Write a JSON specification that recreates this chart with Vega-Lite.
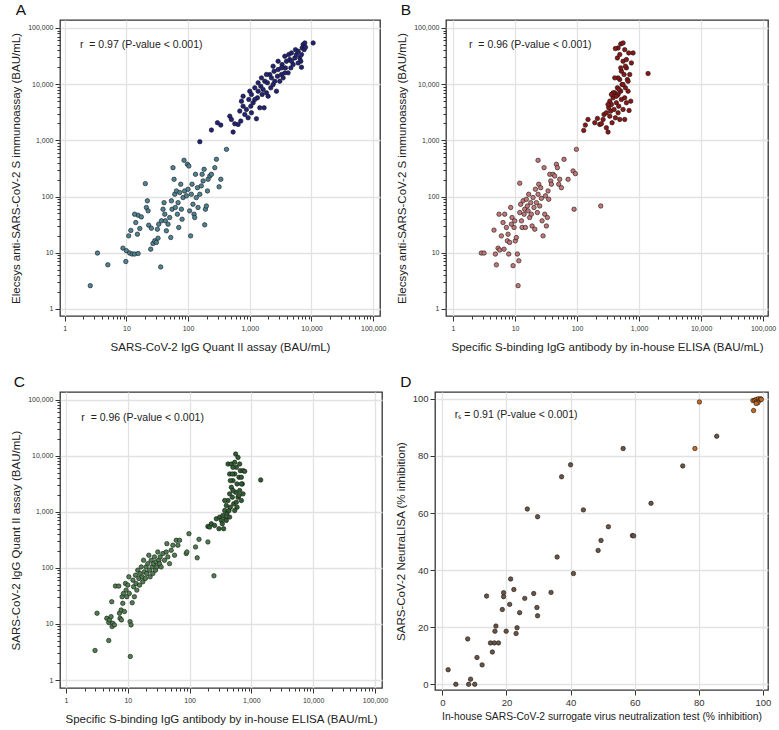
{
 "$schema": "https://vega.github.io/schema/vega-lite/v6.json",
 "background": "white",
 "padding": {"left": 10, "top": 1, "right": 2, "bottom": 2},
 "config": {
  "font": "Liberation Sans",
  "view": {"stroke": "#333333", "strokeWidth": 1.3},
  "axis": {"domain": false, "grid": true, "gridColor": "#e2e2e2", "gridWidth": 1.3, "tickColor": "#333333", "labelColor": "#333333", "labelFont": "Liberation Sans", "titleFont": "Liberation Sans", "titleFontWeight": "normal", "titleFontSize": 11.5, "titleColor": "#222222", "labelFlush": false, "labelOverlap": false},
  "title": {"fontWeight": "normal", "fontSize": 15.5, "anchor": "start", "color": "#111111", "offset": 2, "font": "Liberation Sans"}
 },
 "datasets": {
  "A": [
   {"x":2.6,"y":2.6,"g":"A1"},{"x":3.4,"y":9.9,"g":"A1"},{"x":5.0,"y":6.1,"g":"A1"},{"x":8.8,"y":12.1,"g":"A1"},{"x":9.8,"y":7.0,"g":"A1"},{"x":10,"y":10.9,"g":"A1"},{"x":10.9,"y":20,"g":"A1"},{"x":11.3,"y":9.9,"g":"A1"},{"x":12.4,"y":9.5,"g":"A1"},{"x":13.6,"y":9.5,"g":"A1"},{"x":15.5,"y":9.7,"g":"A1"},{"x":11.8,"y":25,"g":"A1"},{"x":14.2,"y":34.5,"g":"A1"},{"x":15.5,"y":46.6,"g":"A1"},{"x":13.6,"y":48.6,"g":"A1"},{"x":17.5,"y":43.5,"g":"A1"},{"x":16.5,"y":27,"g":"A1"},{"x":15.1,"y":21.4,"g":"A1"},{"x":20.3,"y":170,"g":"A1"},{"x":21.9,"y":84,"g":"A1"},{"x":21.1,"y":64,"g":"A1"},{"x":22.5,"y":55.7,"g":"A1"},{"x":23,"y":31,"g":"A1"},{"x":24.8,"y":11.6,"g":"A1"},{"x":25.4,"y":27.4,"g":"A1"},{"x":27,"y":14.6,"g":"A1"},{"x":28.8,"y":16.3,"g":"A1"},{"x":32.6,"y":18.2,"g":"A1"},{"x":31.8,"y":26.3,"g":"A1"},{"x":30.6,"y":15.3,"g":"A1"},{"x":36,"y":5.6,"g":"A1"},{"x":33.4,"y":32.3,"g":"A1"},{"x":37,"y":37,"g":"A1"},{"x":39.3,"y":59.6,"g":"A1"},{"x":40.8,"y":78,"g":"A1"},{"x":41.9,"y":48.6,"g":"A1"},{"x":42.9,"y":37,"g":"A1"},{"x":44.5,"y":24.6,"g":"A1"},{"x":47.4,"y":32.3,"g":"A1"},{"x":50.4,"y":42.4,"g":"A1"},{"x":52.4,"y":18.7,"g":"A1"},{"x":53.7,"y":84,"g":"A1"},{"x":55,"y":59.6,"g":"A1"},{"x":57,"y":327,"g":"A1"},{"x":59.3,"y":203,"g":"A1"},{"x":60.8,"y":110,"g":"A1"},{"x":62.3,"y":64,"g":"A1"},{"x":64.7,"y":126,"g":"A1"},{"x":67.1,"y":48.6,"g":"A1"},{"x":68.9,"y":78,"g":"A1"},{"x":70.6,"y":28.2,"g":"A1"},{"x":73.3,"y":118,"g":"A1"},{"x":76,"y":166,"g":"A1"},{"x":78,"y":59.6,"g":"A1"},{"x":80,"y":39.6,"g":"A1"},{"x":83,"y":96,"g":"A1"},{"x":86,"y":442,"g":"A1"},{"x":88,"y":126,"g":"A1"},{"x":94,"y":103,"g":"A1"},{"x":97.5,"y":375,"g":"A1"},{"x":100,"y":135,"g":"A1"},{"x":103,"y":350,"g":"A1"},{"x":106,"y":55.7,"g":"A1"},{"x":110,"y":20,"g":"A1"},{"x":113,"y":110,"g":"A1"},{"x":116,"y":166,"g":"A1"},{"x":120,"y":73,"g":"A1"},{"x":125,"y":48.6,"g":"A1"},{"x":128,"y":42.4,"g":"A1"},{"x":132,"y":249,"g":"A1"},{"x":136,"y":96,"g":"A1"},{"x":142,"y":144,"g":"A1"},{"x":145,"y":64,"g":"A1"},{"x":155,"y":110,"g":"A1"},{"x":164,"y":155,"g":"A1"},{"x":169,"y":249,"g":"A1"},{"x":175,"y":190,"g":"A1"},{"x":182,"y":306,"g":"A1"},{"x":186,"y":31.4,"g":"A1"},{"x":191,"y":59.6,"g":"A1"},{"x":198,"y":68,"g":"A1"},{"x":206,"y":126,"g":"A1"},{"x":211,"y":203,"g":"A1"},{"x":225,"y":233,"g":"A1"},{"x":239,"y":249,"g":"A1"},{"x":271,"y":327,"g":"A1"},{"x":288,"y":460,"g":"A1"},{"x":318,"y":149,"g":"A1"},{"x":339,"y":203,"g":"A1"},{"x":419,"y":692,"g":"A1"},
   {"x":155,"y":947,"g":"A2"},{"x":239,"y":1525,"g":"A2"},{"x":299,"y":2060,"g":"A2"},{"x":339,"y":1870,"g":"A2"},{"x":474,"y":2700,"g":"A2"},{"x":504,"y":2360,"g":"A2"},{"x":537,"y":1406,"g":"A2"},{"x":571,"y":1977,"g":"A2"},{"x":647,"y":1923,"g":"A2"},{"x":689,"y":3318,"g":"A2"},{"x":714,"y":2205,"g":"A2"},{"x":733,"y":4990,"g":"A2"},{"x":780,"y":4066,"g":"A2"},{"x":830,"y":2895,"g":"A2"},{"x":883,"y":3550,"g":"A2"},{"x":939,"y":2525,"g":"A2"},{"x":964,"y":5345,"g":"A2"},{"x":1000,"y":7510,"g":"A2"},{"x":1038,"y":4066,"g":"A2"},{"x":1064,"y":6560,"g":"A2"},{"x":1132,"y":4665,"g":"A2"},{"x":1205,"y":8610,"g":"A2"},{"x":1282,"y":2425,"g":"A2"},{"x":1331,"y":5716,"g":"A2"},{"x":1365,"y":7510,"g":"A2"},{"x":1452,"y":3800,"g":"A2"},{"x":1508,"y":9210,"g":"A2"},{"x":1585,"y":6560,"g":"A2"},{"x":1644,"y":8040,"g":"A2"},{"x":1708,"y":3800,"g":"A2"},{"x":1750,"y":11300,"g":"A2"},{"x":1862,"y":7020,"g":"A2"},{"x":1933,"y":10560,"g":"A2"},{"x":1983,"y":6120,"g":"A2"},{"x":2110,"y":14860,"g":"A2"},{"x":2190,"y":8610,"g":"A2"},{"x":2245,"y":12950,"g":"A2"},{"x":2390,"y":9860,"g":"A2"},{"x":2480,"y":17020,"g":"A2"},{"x":2545,"y":11300,"g":"A2"},{"x":2705,"y":7510,"g":"A2"},{"x":2810,"y":13870,"g":"A2"},{"x":2880,"y":18200,"g":"A2"},{"x":3063,"y":11300,"g":"A2"},{"x":3265,"y":14860,"g":"A2"},{"x":3345,"y":22340,"g":"A2"},{"x":3475,"y":12950,"g":"A2"},{"x":3698,"y":31400,"g":"A2"},{"x":3787,"y":19500,"g":"A2"},{"x":3935,"y":25600,"g":"A2"},{"x":4185,"y":15900,"g":"A2"},{"x":4288,"y":33650,"g":"A2"},{"x":4455,"y":27400,"g":"A2"},{"x":4625,"y":19500,"g":"A2"},{"x":4742,"y":36000,"g":"A2"},{"x":5045,"y":22340,"g":"A2"},{"x":5370,"y":29300,"g":"A2"},{"x":5505,"y":41200,"g":"A2"},{"x":5715,"y":33650,"g":"A2"},{"x":6080,"y":38550,"g":"A2"},{"x":6470,"y":29300,"g":"A2"},{"x":6715,"y":25600,"g":"A2"},{"x":6885,"y":20040,"g":"A2"},{"x":7060,"y":44150,"g":"A2"},{"x":7330,"y":50600,"g":"A2"},{"x":7605,"y":41200,"g":"A2"},{"x":7800,"y":54200,"g":"A2"},{"x":8000,"y":45400,"g":"A2"},{"x":10640,"y":54200,"g":"A2"},{"x":3698,"y":15900,"g":"A2"},{"x":1365,"y":10560,"g":"A2"},{"x":1546,"y":12950,"g":"A2"},{"x":1862,"y":14860,"g":"A2"},{"x":2390,"y":20900,"g":"A2"},{"x":2880,"y":25600,"g":"A2"},{"x":1064,"y":3100,"g":"A2"},{"x":780,"y":6120,"g":"A2"},{"x":1205,"y":5345,"g":"A2"},{"x":3265,"y":19500,"g":"A2"},{"x":4742,"y":25600,"g":"A2"},{"x":6080,"y":23900,"g":"A2"},{"x":6885,"y":33650,"g":"A2"}
  ],
  "B": [
   {"x":2.86,"y":9.9,"g":"B1"},{"x":3.16,"y":9.9,"g":"B1"},{"x":4.58,"y":25.3,"g":"B1"},{"x":4.82,"y":9.5,"g":"B1"},{"x":5.0,"y":6.1,"g":"B1"},{"x":5.32,"y":12.1,"g":"B1"},{"x":5.52,"y":48.6,"g":"B1"},{"x":5.66,"y":11.2,"g":"B1"},{"x":6.02,"y":20,"g":"B1"},{"x":6.4,"y":34.5,"g":"B1"},{"x":6.65,"y":11.6,"g":"B1"},{"x":6.81,"y":48.6,"g":"B1"},{"x":7.25,"y":28.2,"g":"B1"},{"x":7.52,"y":16.3,"g":"B1"},{"x":7.71,"y":21.4,"g":"B1"},{"x":7.91,"y":9.5,"g":"B1"},{"x":8.2,"y":15.3,"g":"B1"},{"x":8.51,"y":64,"g":"B1"},{"x":8.73,"y":32.3,"g":"B1"},{"x":8.95,"y":42.4,"g":"B1"},{"x":9.29,"y":5.9,"g":"B1"},{"x":9.64,"y":28.2,"g":"B1"},{"x":9.88,"y":37,"g":"B1"},{"x":10.1,"y":16.3,"g":"B1"},{"x":10.5,"y":18.7,"g":"B1"},{"x":10.9,"y":9.5,"g":"B1"},{"x":11.2,"y":2.6,"g":"B1"},{"x":11.5,"y":7.2,"g":"B1"},{"x":11.9,"y":173,"g":"B1"},{"x":11.9,"y":52,"g":"B1"},{"x":12.3,"y":73,"g":"B1"},{"x":12.7,"y":37,"g":"B1"},{"x":13,"y":28.2,"g":"B1"},{"x":13.5,"y":84,"g":"B1"},{"x":14,"y":48.6,"g":"B1"},{"x":14.3,"y":59.6,"g":"B1"},{"x":14.7,"y":28.2,"g":"B1"},{"x":15.2,"y":89.7,"g":"B1"},{"x":15.8,"y":68,"g":"B1"},{"x":16.2,"y":55.7,"g":"B1"},{"x":16.6,"y":110,"g":"B1"},{"x":17.2,"y":42.4,"g":"B1"},{"x":17.9,"y":78,"g":"B1"},{"x":18.3,"y":48.6,"g":"B1"},{"x":18.8,"y":30,"g":"B1"},{"x":19.5,"y":96,"g":"B1"},{"x":20.2,"y":64,"g":"B1"},{"x":20.8,"y":26.3,"g":"B1"},{"x":21.3,"y":135,"g":"B1"},{"x":22.1,"y":78,"g":"B1"},{"x":22.9,"y":52,"g":"B1"},{"x":23.5,"y":442,"g":"B1"},{"x":23.5,"y":110,"g":"B1"},{"x":24.1,"y":166,"g":"B1"},{"x":25,"y":68,"g":"B1"},{"x":25.9,"y":144,"g":"B1"},{"x":26.6,"y":93,"g":"B1"},{"x":27.3,"y":37,"g":"B1"},{"x":28.3,"y":20,"g":"B1"},{"x":29.4,"y":327,"g":"B1"},{"x":30.1,"y":48.6,"g":"B1"},{"x":30.9,"y":103,"g":"B1"},{"x":32,"y":30,"g":"B1"},{"x":33.2,"y":42.4,"g":"B1"},{"x":34.1,"y":126,"g":"B1"},{"x":34.9,"y":89.7,"g":"B1"},{"x":36.3,"y":249,"g":"B1"},{"x":37.6,"y":190,"g":"B1"},{"x":38.6,"y":166,"g":"B1"},{"x":41,"y":249,"g":"B1"},{"x":43.6,"y":233,"g":"B1"},{"x":46.4,"y":375,"g":"B1"},{"x":48.2,"y":327,"g":"B1"},{"x":50.6,"y":166,"g":"B1"},{"x":52.5,"y":203,"g":"B1"},{"x":55.9,"y":144,"g":"B1"},{"x":61.7,"y":460,"g":"B1"},{"x":71.6,"y":203,"g":"B1"},{"x":86.2,"y":286,"g":"B1"},{"x":89.5,"y":59.6,"g":"B1"},{"x":94,"y":256,"g":"B1"},{"x":97.5,"y":692,"g":"B1"},{"x":241,"y":68,"g":"B1"},
   {"x":128,"y":1505,"g":"B2"},{"x":136,"y":1870,"g":"B2"},{"x":150,"y":2360,"g":"B2"},{"x":193,"y":2060,"g":"B2"},{"x":213,"y":2460,"g":"B2"},{"x":232,"y":1923,"g":"B2"},{"x":247,"y":1977,"g":"B2"},{"x":263,"y":2360,"g":"B2"},{"x":272,"y":2895,"g":"B2"},{"x":297,"y":3100,"g":"B2"},{"x":297,"y":1678,"g":"B2"},{"x":316,"y":1406,"g":"B2"},{"x":324,"y":3800,"g":"B2"},{"x":337,"y":2700,"g":"B2"},{"x":349,"y":3318,"g":"B2"},{"x":358,"y":4360,"g":"B2"},{"x":367,"y":2060,"g":"B2"},{"x":381,"y":5716,"g":"B2"},{"x":395,"y":3550,"g":"B2"},{"x":405,"y":7020,"g":"B2"},{"x":415,"y":2525,"g":"B2"},{"x":431,"y":4665,"g":"B2"},{"x":447,"y":8610,"g":"B2"},{"x":459,"y":3100,"g":"B2"},{"x":459,"y":6560,"g":"B2"},{"x":470,"y":4066,"g":"B2"},{"x":488,"y":12100,"g":"B2"},{"x":488,"y":2360,"g":"B2"},{"x":506,"y":7510,"g":"B2"},{"x":519,"y":5345,"g":"B2"},{"x":519,"y":17020,"g":"B2"},{"x":532,"y":9860,"g":"B2"},{"x":552,"y":3550,"g":"B2"},{"x":552,"y":25600,"g":"B2"},{"x":573,"y":14860,"g":"B2"},{"x":587,"y":5716,"g":"B2"},{"x":587,"y":41200,"g":"B2"},{"x":602,"y":8610,"g":"B2"},{"x":625,"y":19500,"g":"B2"},{"x":625,"y":4665,"g":"B2"},{"x":648,"y":12100,"g":"B2"},{"x":665,"y":7510,"g":"B2"},{"x":681,"y":36000,"g":"B2"},{"x":707,"y":14860,"g":"B2"},{"x":734,"y":4990,"g":"B2"},{"x":752,"y":23900,"g":"B2"},{"x":800,"y":36000,"g":"B2"},{"x":587,"y":2360,"g":"B2"},{"x":506,"y":52000,"g":"B2"},{"x":552,"y":54200,"g":"B2"},{"x":459,"y":44150,"g":"B2"},{"x":447,"y":29300,"g":"B2"},{"x":488,"y":33650,"g":"B2"},{"x":415,"y":43000,"g":"B2"},{"x":625,"y":27400,"g":"B2"},{"x":665,"y":11300,"g":"B2"},{"x":602,"y":20900,"g":"B2"},{"x":506,"y":19500,"g":"B2"},{"x":552,"y":9860,"g":"B2"},{"x":459,"y":12950,"g":"B2"},{"x":476,"y":8040,"g":"B2"},{"x":405,"y":12950,"g":"B2"},{"x":431,"y":6120,"g":"B2"},{"x":381,"y":7020,"g":"B2"},{"x":358,"y":6560,"g":"B2"},{"x":337,"y":4990,"g":"B2"},{"x":316,"y":4360,"g":"B2"},{"x":1397,"y":15460,"g":"B2"},{"x":690,"y":3410,"g":"B2"}
  ],
  "C": [
   {"x":2.95,"y":3.36,"g":"C1"},{"x":3.18,"y":15.5,"g":"C1"},{"x":4.92,"y":5.06,"g":"C1"},{"x":11.0,"y":2.63,"g":"C1"},{"x":4.57,"y":12.6,"g":"C1"},{"x":4.92,"y":10.6,"g":"C1"},{"x":5.04,"y":11.8,"g":"C1"},{"x":5.37,"y":13.5,"g":"C1"},{"x":5.57,"y":8.97,"g":"C1"},{"x":5.71,"y":10.3,"g":"C1"},{"x":5.5,"y":24.9,"g":"C1"},{"x":6.08,"y":9.6,"g":"C1"},{"x":6.31,"y":47.3,"g":"C1"},{"x":7.15,"y":47.3,"g":"C1"},{"x":7.33,"y":15.5,"g":"C1"},{"x":7.51,"y":12.6,"g":"C1"},{"x":7.8,"y":17.7,"g":"C1"},{"x":7.89,"y":11.8,"g":"C1"},{"x":8.09,"y":30.6,"g":"C1"},{"x":8.3,"y":23.3,"g":"C1"},{"x":8.51,"y":35,"g":"C1"},{"x":8.83,"y":16.6,"g":"C1"},{"x":9.17,"y":52.7,"g":"C1"},{"x":9.4,"y":40.1,"g":"C1"},{"x":9.64,"y":30.6,"g":"C1"},{"x":10,"y":49.2,"g":"C1"},{"x":10.4,"y":69.2,"g":"C1"},{"x":10.6,"y":35,"g":"C1"},{"x":10.9,"y":11,"g":"C1"},{"x":11.3,"y":9.6,"g":"C1"},{"x":11.8,"y":23.9,"g":"C1"},{"x":12.1,"y":60.4,"g":"C1"},{"x":12.4,"y":46,"g":"C1"},{"x":12.8,"y":30.6,"g":"C1"},{"x":13.3,"y":74.1,"g":"C1"},{"x":13.6,"y":52.7,"g":"C1"},{"x":14,"y":40.1,"g":"C1"},{"x":14.5,"y":90.9,"g":"C1"},{"x":15.1,"y":64.7,"g":"C1"},{"x":15.5,"y":49.2,"g":"C1"},{"x":15.8,"y":79.3,"g":"C1"},{"x":16.5,"y":104,"g":"C1"},{"x":17.1,"y":69.2,"g":"C1"},{"x":17.5,"y":56.4,"g":"C1"},{"x":18,"y":137,"g":"C1"},{"x":18.6,"y":84.9,"g":"C1"},{"x":19.3,"y":64.7,"g":"C1"},{"x":19.8,"y":104,"g":"C1"},{"x":20.3,"y":79.3,"g":"C1"},{"x":21.1,"y":119,"g":"C1"},{"x":21.9,"y":168,"g":"C1"},{"x":22.5,"y":90.9,"g":"C1"},{"x":23,"y":69.2,"g":"C1"},{"x":23.9,"y":137,"g":"C1"},{"x":24.8,"y":104,"g":"C1"},{"x":25.4,"y":79.3,"g":"C1"},{"x":26.1,"y":119,"g":"C1"},{"x":27,"y":157,"g":"C1"},{"x":28.1,"y":90.9,"g":"C1"},{"x":28.8,"y":128,"g":"C1"},{"x":29.5,"y":104,"g":"C1"},{"x":30.6,"y":192,"g":"C1"},{"x":31.8,"y":137,"g":"C1"},{"x":32.6,"y":119,"g":"C1"},{"x":33.4,"y":157,"g":"C1"},{"x":34.7,"y":104,"g":"C1"},{"x":37,"y":180,"g":"C1"},{"x":39.3,"y":137,"g":"C1"},{"x":41.9,"y":192,"g":"C1"},{"x":42.9,"y":270,"g":"C1"},{"x":44.5,"y":157,"g":"C1"},{"x":47.4,"y":119,"g":"C1"},{"x":50.4,"y":206,"g":"C1"},{"x":53.7,"y":253,"g":"C1"},{"x":57.1,"y":168,"g":"C1"},{"x":60.8,"y":310,"g":"C1"},{"x":64.7,"y":253,"g":"C1"},{"x":68.9,"y":310,"g":"C1"},{"x":88.3,"y":180,"g":"C1"},{"x":90.5,"y":192,"g":"C1"},{"x":97.6,"y":407,"g":"C1"},{"x":125,"y":236,"g":"C1"},{"x":133,"y":151,"g":"C1"},{"x":142,"y":323,"g":"C1"},{"x":198,"y":290,"g":"C1"},{"x":248,"y":72.1,"g":"C1"},
   {"x":198,"y":549,"g":"C2"},{"x":211,"y":534,"g":"C2"},{"x":225,"y":612,"g":"C2"},{"x":254,"y":572,"g":"C2"},{"x":271,"y":751,"g":"C2"},{"x":299,"y":499,"g":"C2"},{"x":307,"y":804,"g":"C2"},{"x":326,"y":702,"g":"C2"},{"x":347,"y":861,"g":"C2"},{"x":356,"y":499,"g":"C2"},{"x":370,"y":1056,"g":"C2"},{"x":384,"y":751,"g":"C2"},{"x":393,"y":1296,"g":"C2"},{"x":403,"y":921,"g":"C2"},{"x":419,"y":1589,"g":"C2"},{"x":434,"y":1056,"g":"C2"},{"x":445,"y":2088,"g":"C2"},{"x":457,"y":1210,"g":"C2"},{"x":474,"y":2740,"g":"C2"},{"x":492,"y":1821,"g":"C2"},{"x":504,"y":3598,"g":"C2"},{"x":517,"y":1387,"g":"C2"},{"x":537,"y":4728,"g":"C2"},{"x":557,"y":2234,"g":"C2"},{"x":571,"y":6210,"g":"C2"},{"x":586,"y":3141,"g":"C2"},{"x":608,"y":1821,"g":"C2"},{"x":631,"y":4125,"g":"C2"},{"x":647,"y":2391,"g":"C2"},{"x":663,"y":5418,"g":"C2"},{"x":689,"y":1589,"g":"C2"},{"x":714,"y":3141,"g":"C2"},{"x":733,"y":2088,"g":"C2"},{"x":419,"y":7114,"g":"C2"},{"x":445,"y":4728,"g":"C2"},{"x":474,"y":7114,"g":"C2"},{"x":504,"y":6210,"g":"C2"},{"x":537,"y":7620,"g":"C2"},{"x":457,"y":3598,"g":"C2"},{"x":492,"y":4728,"g":"C2"},{"x":557,"y":10700,"g":"C2"},{"x":608,"y":9340,"g":"C2"},{"x":647,"y":7114,"g":"C2"},{"x":689,"y":3141,"g":"C2"},{"x":571,"y":1485,"g":"C2"},{"x":393,"y":702,"g":"C2"},{"x":339,"y":612,"g":"C2"},{"x":370,"y":1589,"g":"C2"},{"x":504,"y":2391,"g":"C2"},{"x":586,"y":1210,"g":"C2"},{"x":631,"y":1950,"g":"C2"},{"x":689,"y":4125,"g":"C2"},{"x":733,"y":5418,"g":"C2"},{"x":780,"y":5270,"g":"C2"},{"x":537,"y":1056,"g":"C2"},{"x":445,"y":804,"g":"C2"},{"x":1416,"y":3700,"g":"C2"}
  ],
  "D": [
   {"x":1.8,"y":5.1,"g":"D1"},{"x":4.2,"y":0,"g":"D1"},{"x":8.2,"y":0,"g":"D1"},{"x":10.1,"y":0,"g":"D1"},{"x":8.8,"y":1.8,"g":"D1"},{"x":7.9,"y":15.9,"g":"D1"},{"x":10.8,"y":9.4,"g":"D1"},{"x":12.4,"y":6.8,"g":"D1"},{"x":13.8,"y":30.9,"g":"D1"},{"x":15.0,"y":14.5,"g":"D1"},{"x":15.6,"y":11.3,"g":"D1"},{"x":16.2,"y":14.5,"g":"D1"},{"x":17.5,"y":14.5,"g":"D1"},{"x":16.4,"y":18.6,"g":"D1"},{"x":16.7,"y":20.4,"g":"D1"},{"x":18.7,"y":26.2,"g":"D1"},{"x":19.1,"y":32.1,"g":"D1"},{"x":19.1,"y":30.7,"g":"D1"},{"x":19.9,"y":18.6,"g":"D1"},{"x":21.0,"y":28.0,"g":"D1"},{"x":21.3,"y":36.9,"g":"D1"},{"x":22.3,"y":33.2,"g":"D1"},{"x":23.0,"y":17.8,"g":"D1"},{"x":23.3,"y":19.8,"g":"D1"},{"x":24.1,"y":25.1,"g":"D1"},{"x":25.7,"y":30.1,"g":"D1"},{"x":26.5,"y":61.4,"g":"D1"},{"x":28.5,"y":31.8,"g":"D1"},{"x":29.5,"y":26.9,"g":"D1"},{"x":29.7,"y":58.7,"g":"D1"},{"x":29.7,"y":24.0,"g":"D1"},{"x":33.9,"y":32.2,"g":"D1"},{"x":35.8,"y":44.6,"g":"D1"},{"x":37.2,"y":72.7,"g":"D1"},{"x":40.0,"y":76.9,"g":"D1"},{"x":40.9,"y":38.8,"g":"D1"},{"x":44.0,"y":61.1,"g":"D1"},{"x":48.6,"y":46.9,"g":"D1"},{"x":49.5,"y":50.4,"g":"D1"},{"x":51.8,"y":55.2,"g":"D1"},{"x":59.3,"y":52.1,"g":"D1"},{"x":59.7,"y":52.0,"g":"D1"},{"x":56.4,"y":82.6,"g":"D1"},{"x":65.1,"y":63.4,"g":"D1"},{"x":75.0,"y":76.5,"g":"D1"},{"x":78.8,"y":82.6,"g":"D2"},{"x":80.2,"y":98.9,"g":"D2"},{"x":85.6,"y":86.9,"g":"D1"},
   {"x":97.1,"y":95.9,"g":"D2"},{"x":96.9,"y":99.4,"g":"D2"},{"x":97.4,"y":99.5,"g":"D2"},{"x":97.9,"y":99.8,"g":"D2"},{"x":98.2,"y":99.2,"g":"D2"},{"x":98.6,"y":100,"g":"D2"},{"x":99.0,"y":99.5,"g":"D2"},{"x":98.4,"y":98.6,"g":"D2"},{"x":97.9,"y":98.4,"g":"D2"},{"x":99.3,"y":100,"g":"D2"},{"x":99.5,"y":99.8,"g":"D2"}
  ]
 },
 "spacing": 19,
 "bounds": "full",
 "vconcat": [
  {
   "spacing": 66,
   "bounds": "flush",
   "hconcat": [
    {
     "title": {"text": "A", "dx": 5},
     "width": 320, "height": 296,
     "layer": [
      {
       "data": {"name": "A"},
       "mark": {"type": "circle", "size": 20, "opacity": 1, "stroke": "#151515", "strokeWidth": 0.6},
       "encoding": {
        "x": {"field": "x", "type": "quantitative", "scale": {"type": "log", "domain": [0.84, 129000], "nice": false},
         "axis": {"title": "SARS-CoV-2 IgG Quant II assay (BAU/mL)", "values": [1,2,3,4,5,6,7,8,9,10,20,30,40,50,60,70,80,90,100,200,300,400,500,600,700,800,900,1000,2000,3000,4000,5000,6000,7000,8000,9000,10000,20000,30000,40000,50000,60000,70000,80000,90000,100000],
          "labelExpr": "indexof([1,10,100,1000,10000,100000], datum.value) >= 0 ? format(datum.value, ',') : ''",
          "labelFontSize": 7, "labelPadding": 3, "titlePadding": 10,
          "tickSize": {"condition": {"test": "indexof([1,10,100,1000,10000,100000], datum.value) >= 0", "value": 5}, "value": 3},
          "gridOpacity": {"condition": {"test": "indexof([1,10,100,1000,10000,100000], datum.value) >= 0", "value": 1}, "value": 0}}},
        "y": {"field": "y", "type": "quantitative", "scale": {"type": "log", "domain": [0.75, 138700], "nice": false},
         "axis": {"title": "Elecsys anti-SARS-CoV-2 S immunoassay (BAU/mL)", "values": [1,2,3,4,5,6,7,8,9,10,20,30,40,50,60,70,80,90,100,200,300,400,500,600,700,800,900,1000,2000,3000,4000,5000,6000,7000,8000,9000,10000,20000,30000,40000,50000,60000,70000,80000,90000,100000],
          "labelExpr": "indexof([1,10,100,1000,10000,100000], datum.value) >= 0 ? format(datum.value, ',') : ''",
          "labelFontSize": 7, "labelPadding": 2, "titlePadding": 6,
          "tickSize": {"condition": {"test": "indexof([1,10,100,1000,10000,100000], datum.value) >= 0", "value": 5}, "value": 3},
          "gridOpacity": {"condition": {"test": "indexof([1,10,100,1000,10000,100000], datum.value) >= 0", "value": 1}, "value": 0}}},
        "fill": {"field": "g", "type": "nominal", "legend": null, "scale": {"domain": ["A1","A2","B1","B2","C1","C2","D1","D2"], "range": ["#4f8394","#22227a","#c27676","#8c1616","#4f7f4f","#2f5f2f","#6b5444","#c8691e"]}}
       }
      },
      {
       "data": {"values": [{"x": 1.77, "y": 49000, "label": "r\u00a0 = 0.97 (P-value < 0.001)"}]},
       "mark": {"type": "text", "align": "left", "baseline": "middle", "fontSize": 10.5, "color": "#222222"},
       "encoding": {"x": {"field": "x", "type": "quantitative"}, "y": {"field": "y", "type": "quantitative"}, "text": {"field": "label"}}
      }
     ]
    },
    {
     "title": {"text": "B", "dx": 4},
     "width": 322, "height": 296,
     "layer": [
      {
       "data": {"name": "B"},
       "mark": {"type": "circle", "size": 20, "opacity": 1, "stroke": "#151515", "strokeWidth": 0.6},
       "encoding": {
        "x": {"field": "x", "type": "quantitative", "scale": {"type": "log", "domain": [0.77, 120000], "nice": false},
         "axis": {"title": "Specific S-binding IgG antibody by in-house ELISA (BAU/mL)", "values": [1,2,3,4,5,6,7,8,9,10,20,30,40,50,60,70,80,90,100,200,300,400,500,600,700,800,900,1000,2000,3000,4000,5000,6000,7000,8000,9000,10000,20000,30000,40000,50000,60000,70000,80000,90000,100000],
          "labelExpr": "indexof([1,10,100,1000,10000,100000], datum.value) >= 0 ? format(datum.value, ',') : ''",
          "labelFontSize": 7, "labelPadding": 3, "titlePadding": 10,
          "tickSize": {"condition": {"test": "indexof([1,10,100,1000,10000,100000], datum.value) >= 0", "value": 5}, "value": 3},
          "gridOpacity": {"condition": {"test": "indexof([1,10,100,1000,10000,100000], datum.value) >= 0", "value": 1}, "value": 0}}},
        "y": {"field": "y", "type": "quantitative", "scale": {"type": "log", "domain": [0.75, 138700], "nice": false},
         "axis": {"title": "Elecsys anti-SARS-CoV-2 S immunoassay (BAU/mL)", "values": [1,2,3,4,5,6,7,8,9,10,20,30,40,50,60,70,80,90,100,200,300,400,500,600,700,800,900,1000,2000,3000,4000,5000,6000,7000,8000,9000,10000,20000,30000,40000,50000,60000,70000,80000,90000,100000],
          "labelExpr": "indexof([1,10,100,1000,10000,100000], datum.value) >= 0 ? format(datum.value, ',') : ''",
          "labelFontSize": 7, "labelPadding": 2, "titlePadding": 6,
          "tickSize": {"condition": {"test": "indexof([1,10,100,1000,10000,100000], datum.value) >= 0", "value": 5}, "value": 3},
          "gridOpacity": {"condition": {"test": "indexof([1,10,100,1000,10000,100000], datum.value) >= 0", "value": 1}, "value": 0}}},
        "fill": {"field": "g", "type": "nominal", "legend": null, "scale": {"domain": ["A1","A2","B1","B2","C1","C2","D1","D2"], "range": ["#4f8394","#22227a","#c27676","#8c1616","#4f7f4f","#2f5f2f","#6b5444","#c8691e"]}}
       }
      },
      {
       "data": {"values": [{"x": 1.81, "y": 49000, "label": "r\u00a0 = 0.96 (P-value < 0.001)"}]},
       "mark": {"type": "text", "align": "left", "baseline": "middle", "fontSize": 10.5, "color": "#222222"},
       "encoding": {"x": {"field": "x", "type": "quantitative"}, "y": {"field": "y", "type": "quantitative"}, "text": {"field": "label"}}
      }
     ]
    }
   ]
  },
  {
   "spacing": 53,
   "bounds": "flush",
   "hconcat": [
    {
     "title": {"text": "C", "dx": 3},
     "width": 322, "height": 296,
     "layer": [
      {
       "data": {"name": "C"},
       "mark": {"type": "circle", "size": 20, "opacity": 1, "stroke": "#151515", "strokeWidth": 0.6},
       "encoding": {
        "x": {"field": "x", "type": "quantitative", "scale": {"type": "log", "domain": [0.8, 130000], "nice": false},
         "axis": {"title": "Specific S-binding IgG antibody by in-house ELISA (BAU/mL)", "values": [1,2,3,4,5,6,7,8,9,10,20,30,40,50,60,70,80,90,100,200,300,400,500,600,700,800,900,1000,2000,3000,4000,5000,6000,7000,8000,9000,10000,20000,30000,40000,50000,60000,70000,80000,90000,100000],
          "labelExpr": "indexof([1,10,100,1000,10000,100000], datum.value) >= 0 ? format(datum.value, ',') : ''",
          "labelFontSize": 7, "labelPadding": 3, "titlePadding": 10,
          "tickSize": {"condition": {"test": "indexof([1,10,100,1000,10000,100000], datum.value) >= 0", "value": 5}, "value": 3},
          "gridOpacity": {"condition": {"test": "indexof([1,10,100,1000,10000,100000], datum.value) >= 0", "value": 1}, "value": 0}}},
        "y": {"field": "y", "type": "quantitative", "scale": {"type": "log", "domain": [0.72, 137000], "nice": false},
         "axis": {"title": "SARS-CoV-2 IgG Quant II assay (BAU/mL)", "values": [1,2,3,4,5,6,7,8,9,10,20,30,40,50,60,70,80,90,100,200,300,400,500,600,700,800,900,1000,2000,3000,4000,5000,6000,7000,8000,9000,10000,20000,30000,40000,50000,60000,70000,80000,90000,100000],
          "labelExpr": "indexof([1,10,100,1000,10000,100000], datum.value) >= 0 ? format(datum.value, ',') : ''",
          "labelFontSize": 7, "labelPadding": 2, "titlePadding": 6,
          "tickSize": {"condition": {"test": "indexof([1,10,100,1000,10000,100000], datum.value) >= 0", "value": 5}, "value": 3},
          "gridOpacity": {"condition": {"test": "indexof([1,10,100,1000,10000,100000], datum.value) >= 0", "value": 1}, "value": 0}}},
        "fill": {"field": "g", "type": "nominal", "legend": null, "scale": {"domain": ["A1","A2","B1","B2","C1","C2","D1","D2"], "range": ["#4f8394","#22227a","#c27676","#8c1616","#4f7f4f","#2f5f2f","#6b5444","#c8691e"]}}
       }
      },
      {
       "data": {"values": [{"x": 1.77, "y": 47000, "label": "r\u00a0 = 0.96 (P-value < 0.001)"}]},
       "mark": {"type": "text", "align": "left", "baseline": "middle", "fontSize": 10.5, "color": "#222222"},
       "encoding": {"x": {"field": "x", "type": "quantitative"}, "y": {"field": "y", "type": "quantitative"}, "text": {"field": "label"}}
      }
     ]
    },
    {
     "title": {"text": "D", "dx": 5},
     "width": 333, "height": 298,
     "layer": [
      {
       "data": {"name": "D"},
       "mark": {"type": "circle", "size": 20, "opacity": 1, "stroke": "#151515", "strokeWidth": 0.6},
       "encoding": {
        "x": {"field": "x", "type": "quantitative", "scale": {"domain": [-2.3, 101.6], "nice": false, "zero": false},
         "axis": {"title": "In-house SARS-CoV-2 surrogate virus neutralization test (% inhibition)", "titleFontSize": 10.3, "values": [0,10,20,30,40,50,60,70,80,90,100],
          "labelExpr": "datum.value % 20 === 0 ? datum.label : ''",
          "labelFontSize": 9.5, "labelPadding": 2, "titlePadding": 5,
          "tickSize": {"condition": {"test": "datum.value % 20 === 0", "value": 5}, "value": 3},
          "gridOpacity": {"condition": {"test": "datum.value % 20 === 0", "value": 1}, "value": 0}}},
        "y": {"field": "y", "type": "quantitative", "scale": {"domain": [-2, 102.4], "nice": false, "zero": false},
         "axis": {"title": "SARS-CoV-2 NeutraLISA (% inhibition)", "values": [0,10,20,30,40,50,60,70,80,90,100],
          "labelExpr": "datum.value % 20 === 0 ? datum.label : ''",
          "labelFontSize": 9.5, "labelPadding": 2, "titlePadding": 6,
          "tickSize": {"condition": {"test": "datum.value % 20 === 0", "value": 5}, "value": 3},
          "gridOpacity": {"condition": {"test": "datum.value % 20 === 0", "value": 1}, "value": 0}}},
        "fill": {"field": "g", "type": "nominal", "legend": null, "scale": {"domain": ["A1","A2","B1","B2","C1","C2","D1","D2"], "range": ["#4f8394","#22227a","#c27676","#8c1616","#4f7f4f","#2f5f2f","#6b5444","#c8691e"]}}
       }
      },
      {
       "data": {"values": [{"x": 3.9, "y": 94.5, "label": "rₛ = 0.91 (P-value < 0.001)"}]},
       "mark": {"type": "text", "align": "left", "baseline": "middle", "fontSize": 10.5, "color": "#222222"},
       "encoding": {"x": {"field": "x", "type": "quantitative"}, "y": {"field": "y", "type": "quantitative"}, "text": {"field": "label"}}
      }
     ]
    }
   ]
  }
 ]
}
